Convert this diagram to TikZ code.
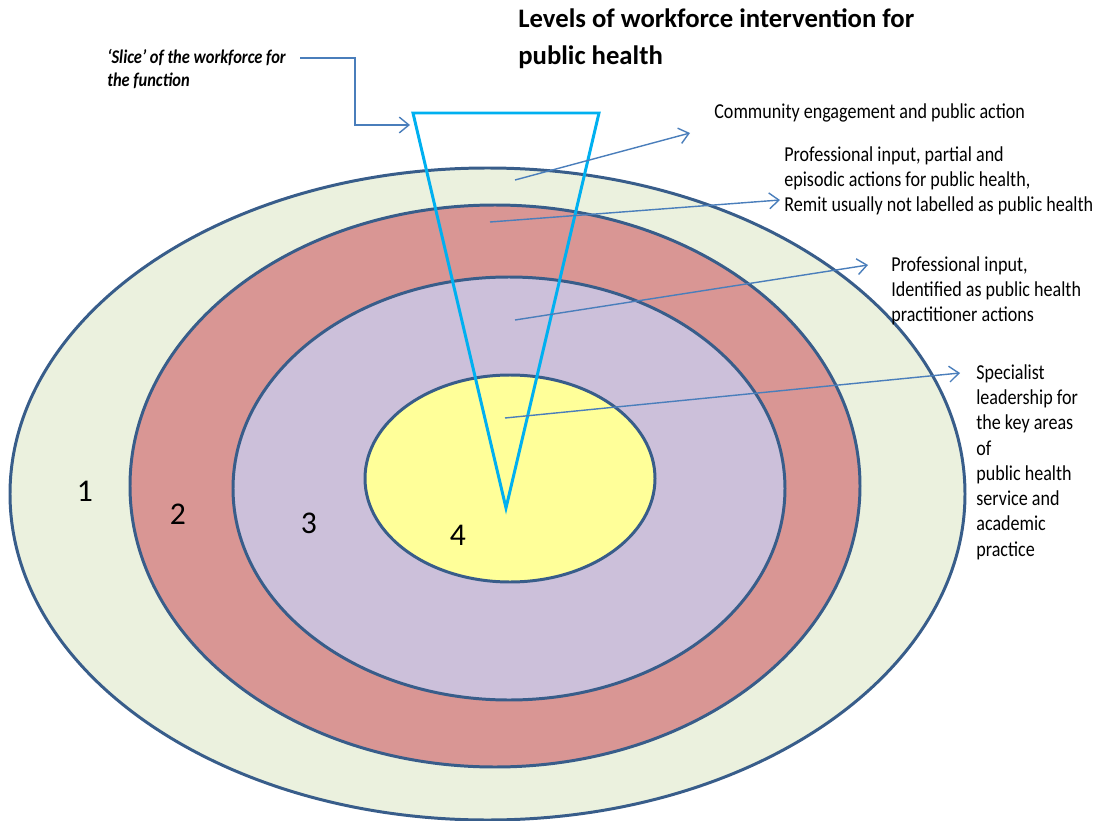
\documentclass[tikz,border=0pt]{standalone}
\usepackage{fontspec}
\setmainfont{Carlito}
\newfontfamily\narrowfont[FakeStretch=0.85]{Carlito}
\usetikzlibrary{arrows.meta}
\definecolor{ringline}{RGB}{56,93,138}
\definecolor{arrowblue}{RGB}{74,126,187}
\definecolor{slicecyan}{RGB}{0,176,240}
\definecolor{fillA}{RGB}{235,241,222}
\definecolor{fillB}{RGB}{217,150,148}
\definecolor{fillC}{RGB}{204,192,218}
\definecolor{fillD}{RGB}{255,255,153}
\tikzset{
  ring/.style={draw=ringline, line width=1.7pt},
  pointer/.style={draw=arrowblue, line width=0.8pt, -{Straight Barb[length=5.5pt,width=9pt,line width=0.8pt]}},
  lbl/.style={anchor=west, align=left, inner sep=0pt, font=\narrowfont\fontsize{12.1}{14.4}\selectfont},
  num/.style={inner sep=0pt, font=\fontsize{18}{20}\selectfont},
}
\begin{document}
\begin{tikzpicture}[x=0.02cm,y=-0.02cm]
\useasboundingbox (0,0) rectangle (1096,821);
% rings
\path[ring, fill=fillA] (487.5,494) ellipse [x radius=477.5, y radius=326];
\path[ring, fill=fillB] (495,486) ellipse [x radius=365, y radius=281];
\path[ring, fill=fillC] (509,488.5) ellipse [x radius=276, y radius=211.5];
\path[ring, fill=fillD] (510,478.5) ellipse [x radius=145, y radius=103.5];
% numbers
\node[num] (n1) at (85,491) {1};
\node[num] (n2) at (178,514) {2};
\node[num] (n3) at (309,523) {3};
\node[num] (n4) at (458,535) {4};
% slice triangle
\coordinate (tl) at (413,113);
\coordinate (tr) at (599,113);
\coordinate (tb) at (506,508);
\draw[slicecyan, line width=1.7pt, line join=miter] (tl) -- (tr) -- (tb) -- cycle;
% title
\node[anchor=west, align=left, inner sep=0pt, font=\fontsize{15.2}{21}\bfseries\selectfont] (title) at (518,38.5) {Levels of workforce intervention for\\public health};
% slice label
\node[anchor=west, align=left, inner sep=0pt, font=\narrowfont\fontsize{11}{12.6}\bfseries\itshape\selectfont] (slice) at (107,69) {‘Slice’ of the workforce for\\the function};
\coordinate (s1) at (300,58);
\coordinate (s2) at (410,125);
\draw[pointer] (s1) -- (355,58) |- (s2);
% labels
\node[lbl] (L1) at (714,113) {Community engagement and public action};
\node[lbl] (L2) at (784,181) {Professional input, partial and\\episodic actions for public health,\\Remit usually not labelled as public health};
\node[lbl] (L3) at (891,291) {Professional input,\\Identified as public health\\practitioner actions};
\node[lbl] (L4) at (976,462) {Specialist\\leadership for\\the key areas\\of\\public health\\service and\\academic\\practice};
% pointers
\coordinate (a1) at (515,180); \coordinate (b1) at (690,133);
\coordinate (a2) at (490,222); \coordinate (b2) at (780,200);
\coordinate (a3) at (515,320); \coordinate (b3) at (868,265);
\coordinate (a4) at (505,418); \coordinate (b4) at (960,373);
\draw[pointer] (a1) -- (b1);
\draw[pointer] (a2) -- (b2);
\draw[pointer] (a3) -- (b3);
\draw[pointer] (a4) -- (b4);
\end{tikzpicture}
\end{document}
